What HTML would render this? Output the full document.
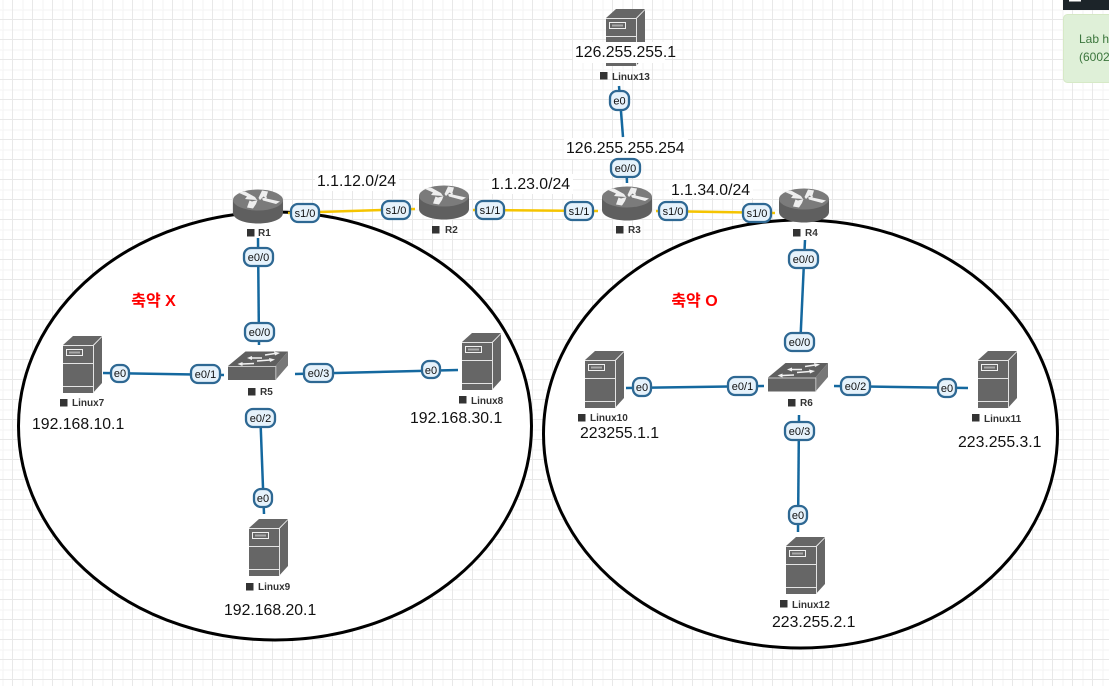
<!DOCTYPE html>
<html lang="ko">
<head>
<meta charset="utf-8">
<title>Network topology</title>
<style>
html,body{margin:0;padding:0;background:#fff;width:1109px;height:686px;overflow:hidden}
svg{display:block;position:absolute;left:0;top:0}
text{font-family:"Liberation Sans","Noto Sans CJK KR",sans-serif}
.ip{font-size:15.8px;fill:#111}
.n{font-size:10px;font-weight:bold;fill:#333}
.p{font-size:11px;fill:#111;text-anchor:middle}
.pill{fill:#e6f2fb;stroke:#2e6893;stroke-width:2.3}
.b{stroke:#14689f;stroke-width:2.5;fill:none}
.y{stroke:#f5c400;stroke-width:2.5;fill:none}
.sq{fill:#333}
.k{font-size:16px;font-weight:bold;fill:#f00;text-anchor:middle}
</style>
</head>
<body>
<svg width="1109" height="686" viewBox="0 0 1109 686" xmlns="http://www.w3.org/2000/svg">
<defs>
<pattern id="g" x="2.5" y="9.5" width="20" height="20" patternUnits="userSpaceOnUse">
<path d="M0 0V20M0 0H20" stroke="#f3f3f3" stroke-width="1" fill="none" transform="translate(0.5 0.5)"/>
<path d="M10 0V20M0 10H20" stroke="#e8e8e8" stroke-width="1" fill="none"/>
</pattern>
<symbol id="srv" width="39" height="57" viewBox="0 0 39 57" overflow="visible">
<path d="M0 9L10 0H39L30 9Z" fill="#666"/>
<path d="M30.8 9.5L39 1V47L30.8 56Z" fill="#666"/>
<rect x="0" y="9" width="30" height="48" fill="#666"/>
<path d="M0 9.5H30.5V57M0 27.5H30M0 50.5H30" stroke="#e4e4e4" stroke-width="1" fill="none"/>
<rect x="3.5" y="13.5" width="16" height="6" fill="none" stroke="#f0f0f0" stroke-width="1"/>
<rect x="6" y="15.500" width="11" height="2" fill="#aaa"/>
</symbol>
<symbol id="rt" width="51" height="35" viewBox="0 0 51 35" overflow="visible">
<path d="M0 11V24C0 30 11 34.500 25 34.500S50 30 50 24V11Z" fill="#5f5f5f"/>
<ellipse cx="25" cy="11" rx="25" ry="10.500" fill="#7b7b7b"/>
<path d="M5 3.500L12 2.500L22 8L24 11L17 10.500L12 10L14 7.500Z" fill="#eee"/>
<path d="M35 2.500L29 1.500L25.500 9L27 11L30.500 7.500L33 9Z" fill="#eee"/>
<path d="M47 12.500L43 15L30 11.500L29 9.500L34 8L33.500 9.500Z" fill="#eee"/>
<path d="M14 18.500L20 19.500L23 15L24.500 11L19 12.500L16.500 11.500Z" fill="#eee"/>
</symbol>
<symbol id="sw" width="62" height="29" viewBox="0 0 62 29" overflow="visible">
<path d="M0 14.500L17.500 0H60L47.500 14.500Z" fill="#5f5f5f"/>
<path d="M47.500 14.500L60 0V14L47.500 28.500Z" fill="#777"/>
<rect x="0" y="14.500" width="47.500" height="14" fill="#626262"/>
<path d="M0 15H47.800V28.500" stroke="#c4c4c4" stroke-width="1" fill="none"/>
<path d="M37 3.500L47 2M34 6.500L24 6.500M29 9.500L42 8.500M26 12L14 12.500" stroke="#f2f2f2" stroke-width="1.600" fill="none"/>
<path d="M46 0L52 1.500L47 4ZM24 4.500L19 6.500L24 8.500ZM41 6.500L47 8L42 10.500ZM14.500 10.500L9.500 12.500L14.500 14.500Z" fill="#f2f2f2"/>
</symbol>
</defs>

<rect width="1109" height="686" fill="#fff"/>
<rect width="1109" height="686" fill="url(#g)"/>

<!-- circles -->
<ellipse cx="275" cy="426" rx="256.500" ry="214" fill="#fff" stroke="#000" stroke-width="3"/>
<ellipse cx="800.500" cy="434" rx="257" ry="214" fill="#fff" stroke="#000" stroke-width="3"/>

<!-- links -->
<path class="y" d="M288 213L415 209"/>
<path class="y" d="M473 210L598 211"/>
<path class="y" d="M656 211L775 213"/>
<path class="b" d="M258 238L259 345"/>
<path class="b" d="M103 373L224 375"/>
<path class="b" d="M295 374L458 370"/>
<path class="b" d="M260 408L264 514"/>
<path class="b" d="M805 240L800 349"/>
<path class="b" d="M626 388L764 386"/>
<path class="b" d="M834 386L968 388"/>
<path class="b" d="M799 415L798 532"/>
<path class="b" d="M619 86L623 137"/>
<path class="b" d="M626 156L627 183"/>

<!-- devices -->
<use href="#srv" x="606" y="9"/>
<rect x="573" y="42" width="92" height="21" fill="#fff"/>
<use href="#rt" x="233" y="189"/>
<use href="#rt" x="419" y="185"/>
<use href="#rt" x="602" y="186"/>
<use href="#rt" x="779" y="188"/>
<use href="#sw" x="228" y="351.500"/>
<use href="#sw" x="768" y="363"/>
<use href="#srv" x="63" y="336"/>
<use href="#srv" x="462" y="333"/>
<use href="#srv" x="249" y="519"/>
<use href="#srv" x="585" y="351"/>
<use href="#srv" x="978" y="351"/>
<use href="#srv" x="786" y="537"/>

<!-- white plates for labels over grid -->
<rect x="315" y="171" width="84" height="20" fill="#fff"/>
<rect x="489" y="174" width="84" height="20" fill="#fff"/>
<rect x="669" y="180" width="84" height="18" fill="#fff"/>
<rect x="564" y="138" width="124" height="21" fill="#fff"/>

<!-- node labels -->
<g>
<rect class="sq" x="247" y="229" width="7.500" height="7.500"/><text class="n" x="258" y="236">R1</text>
<rect class="sq" x="432" y="226" width="7.500" height="7.500"/><text class="n" x="445" y="233">R2</text>
<rect class="sq" x="616" y="226" width="7.500" height="7.500"/><text class="n" x="628" y="233">R3</text>
<rect class="sq" x="793" y="229" width="7.500" height="7.500"/><text class="n" x="805" y="236">R4</text>
<rect class="sq" x="248" y="388" width="7.500" height="7.500"/><text class="n" x="260" y="395">R5</text>
<rect class="sq" x="788" y="399" width="7.500" height="7.500"/><text class="n" x="800" y="406">R6</text>
<rect class="sq" x="60" y="399" width="7.500" height="7.500"/><text class="n" x="72" y="406">Linux7</text>
<rect class="sq" x="459" y="396" width="7.500" height="7.500"/><text class="n" x="471" y="404">Linux8</text>
<rect class="sq" x="246" y="583" width="7.500" height="7.500"/><text class="n" x="258" y="590">Linux9</text>
<rect class="sq" x="578" y="414" width="7.500" height="7.500"/><text class="n" x="590" y="421">Linux10</text>
<rect class="sq" x="972" y="414" width="7.500" height="7.500"/><text class="n" x="984" y="422">Linux11</text>
<rect class="sq" x="780" y="600" width="7.500" height="7.500"/><text class="n" x="792" y="608">Linux12</text>
<rect class="sq" x="600" y="72" width="7.500" height="7.500"/><text class="n" x="612" y="80">Linux13</text>
</g>

<!-- interface pills -->
<g>
<rect class="pill" x="291" y="204" width="28" height="18" rx="7"/><text class="p" x="305" y="217">s1/0</text>
<rect class="pill" x="382" y="201" width="28" height="18" rx="7"/><text class="p" x="396" y="214">s1/0</text>
<rect class="pill" x="476" y="201" width="28" height="18" rx="7"/><text class="p" x="490" y="214">s1/1</text>
<rect class="pill" x="565" y="202" width="28" height="18" rx="7"/><text class="p" x="579" y="215">s1/1</text>
<rect class="pill" x="659" y="202" width="28" height="18" rx="7"/><text class="p" x="673" y="215">s1/0</text>
<rect class="pill" x="743" y="204" width="28" height="18" rx="7"/><text class="p" x="757" y="217">s1/0</text>
<rect class="pill" x="244" y="248" width="29" height="18" rx="7"/><text class="p" x="258.500" y="261">e0/0</text>
<rect class="pill" x="245" y="323" width="29" height="18" rx="7"/><text class="p" x="259.500" y="336">e0/0</text>
<rect class="pill" x="111" y="365" width="18" height="17" rx="7"/><text class="p" x="120" y="377">e0</text>
<rect class="pill" x="191" y="365" width="29" height="18" rx="7"/><text class="p" x="205.500" y="378">e0/1</text>
<rect class="pill" x="304" y="364" width="29" height="18" rx="7"/><text class="p" x="318.500" y="377">e0/3</text>
<rect class="pill" x="422" y="361" width="18" height="17" rx="7"/><text class="p" x="431" y="374">e0</text>
<rect class="pill" x="246" y="409" width="29" height="18" rx="7"/><text class="p" x="260.500" y="422">e0/2</text>
<rect class="pill" x="254" y="489" width="18" height="18" rx="7"/><text class="p" x="263" y="502">e0</text>
<rect class="pill" x="789" y="250" width="29" height="18" rx="7"/><text class="p" x="803.500" y="263">e0/0</text>
<rect class="pill" x="785" y="333" width="29" height="18" rx="7"/><text class="p" x="799.500" y="346">e0/0</text>
<rect class="pill" x="633" y="378" width="18" height="18" rx="7"/><text class="p" x="642" y="391">e0</text>
<rect class="pill" x="728" y="377" width="29" height="18" rx="7"/><text class="p" x="742.500" y="390">e0/1</text>
<rect class="pill" x="841" y="377" width="29" height="18" rx="7"/><text class="p" x="855.500" y="390">e0/2</text>
<rect class="pill" x="938" y="379" width="18" height="18" rx="7"/><text class="p" x="947" y="392">e0</text>
<rect class="pill" x="785" y="422" width="29" height="18" rx="7"/><text class="p" x="799.500" y="435">e0/3</text>
<rect class="pill" x="789" y="506" width="18" height="18" rx="7"/><text class="p" x="798" y="519">e0</text>
<rect class="pill" x="610" y="91" width="19" height="19" rx="7"/><text class="p" x="619.500" y="104.500">e0</text>
<rect class="pill" x="611" y="159" width="29" height="18" rx="7"/><text class="p" x="625.500" y="172">e0/0</text>
</g>

<!-- ip labels -->
<text class="ip" x="575" y="57">126.255.255.1</text>
<text class="ip" x="566" y="153">126.255.255.254</text>
<text class="ip" x="317" y="186">1.1.12.0/24</text>
<text class="ip" x="491" y="189">1.1.23.0/24</text>
<text class="ip" x="671" y="195">1.1.34.0/24</text>
<text class="ip" x="32" y="429">192.168.10.1</text>
<text class="ip" x="410" y="423">192.168.30.1</text>
<text class="ip" x="224" y="615">192.168.20.1</text>
<text class="ip" x="580" y="438">223255.1.1</text>
<text class="ip" x="958" y="447">223.255.3.1</text>
<text class="ip" x="772" y="627">223.255.2.1</text>

<text class="k" x="153.500" y="306">축약 X</text>
<text class="k" x="694.500" y="306">축약 O</text>

<!-- top right notification -->
<rect x="1063" y="0" width="46" height="10" fill="#1c2429"/>
<rect x="1069" y="0" width="12" height="1.500" fill="#fff"/>
<rect x="1063.500" y="14.500" width="60" height="68" rx="4" fill="#dff0d8" stroke="#d6e9c6"/>
<text x="1079" y="43" font-size="12" fill="#3c763d">Lab h</text>
<text x="1079" y="61" font-size="12" fill="#3c763d">(6002</text>
</svg>
</body>
</html>
